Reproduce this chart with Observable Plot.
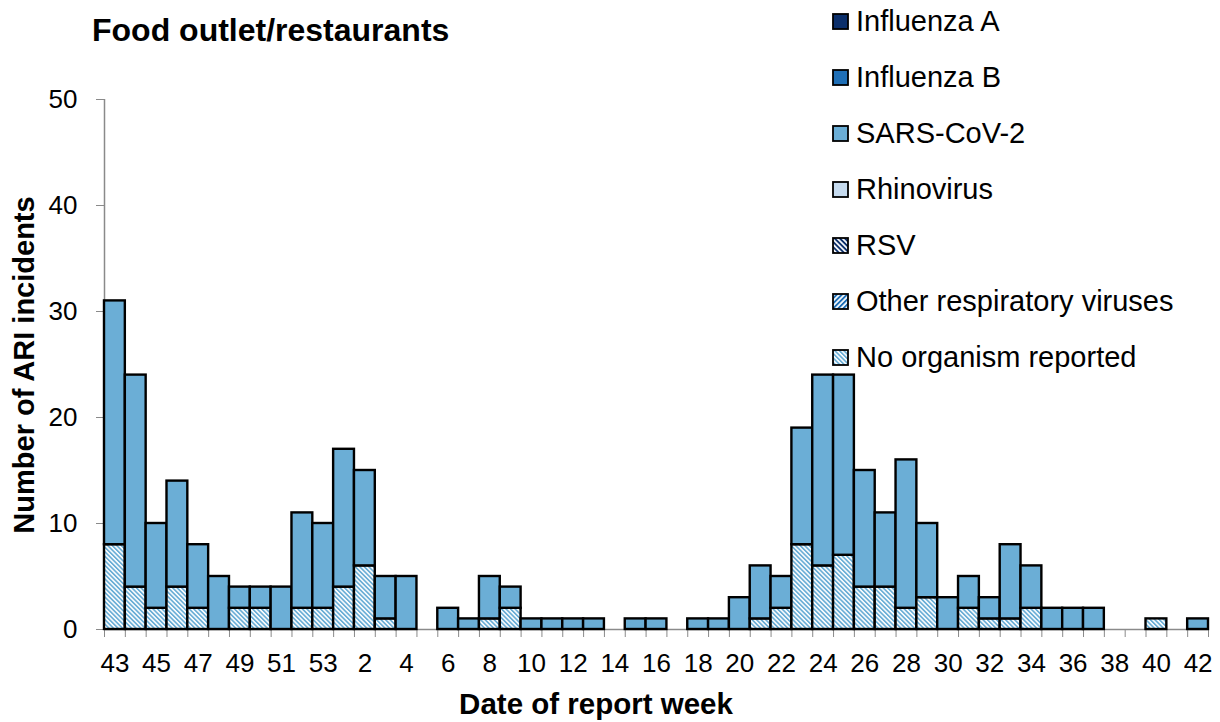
<!DOCTYPE html>
<html>
<head>
<meta charset="utf-8">
<script src="https://cdn.jsdelivr.net/npm/d3@7"></script>
<script src="https://cdn.jsdelivr.net/npm/@observablehq/plot@0.6"></script>
<style>
  html, body { margin: 0; padding: 0; background: white; }
  #wrap { position: relative; width: 1220px; height: 722px; font-family: "Liberation Sans", Arial, sans-serif; color: black; }
  #title { position: absolute; left: 92px; top: 14px; font-size: 32px; font-weight: bold; line-height: 1; white-space: nowrap; }
  #xlabel { position: absolute; left: 0; width: 1192px; top: 689px; text-align: center; font-size: 29.5px; font-weight: bold; line-height: 1; }
  #ylabel { position: absolute; left: 24px; top: 365px; transform: translate(-50%, -50%) rotate(-90deg); font-size: 29px; font-weight: bold; line-height: 1; white-space: nowrap; }
  #legend { position: absolute; left: 832px; top: 0; }
  .item { position: absolute; left: 0; height: 56px; display: flex; align-items: center; white-space: nowrap; font-size: 29px; }
  .item svg { margin-right: 7px; flex: none; }
</style>
</head>
<body>
<div id="wrap">
  <div id="chart"></div>
  <div id="title">Food outlet/restaurants</div>
  <div id="ylabel">Number of ARI incidents</div>
  <div id="xlabel">Date of report week</div>
  <div id="legend"></div>
</div>
<script>
// Report weeks (week 43 of one year through week 42 of the next)
const weeks = ["43","44","45","46","47","48","49","50","51","52","53",
  "1","2","3","4","5","6","7","8","9","10","11","12","13","14","15","16","17","18","19","20",
  "21","22","23","24","25","26","27","28","29","30","31","32","33","34","35","36","37","38","39","40","41","42"];

// Series (legend order, top of stack first)
const seriesNames = ["Influenza A","Influenza B","SARS-CoV-2","Rhinovirus","RSV","Other respiratory viruses","No organism reported"];

const influenzaA = new Array(53).fill(0);
const influenzaB = new Array(53).fill(0);
const sarsCov2 = [23,20,8,10,6,5,2,2,4,9,8,
  13,9,4,5,0,2,1,4,2,1,1,1,1,0,1,1,0,1,1,3,
  5,3,11,18,17,11,7,14,7,3,3,2,7,4,2,2,2,0,0,0,0,1];
const rhinovirus = new Array(53).fill(0);
const rsv = new Array(53).fill(0);
const otherViruses = new Array(53).fill(0);
const noOrganism = [8,4,2,4,2,0,2,2,0,2,2,
  4,6,1,0,0,0,0,1,2,0,0,0,0,0,0,0,0,0,0,0,
  1,2,8,6,7,4,4,2,3,0,2,1,1,2,0,0,0,0,0,1,0,0];

const yTicks = [0,10,20,30,40,50];

const seriesValues = {
  "Influenza A": influenzaA, "Influenza B": influenzaB, "SARS-CoV-2": sarsCov2,
  "Rhinovirus": rhinovirus, "RSV": rsv, "Other respiratory viruses": otherViruses,
  "No organism reported": noOrganism
};
const seriesFill = {
  "Influenza A": "#0b2f6b",
  "Influenza B": "#1f6fb6",
  "SARS-CoV-2": "#6baed6",
  "Rhinovirus": "#c6dbef",
  "RSV": "url(#pat-rsv)",
  "Other respiratory viruses": "url(#pat-other)",
  "No organism reported": "url(#pat-nor)"
};

// stack bottom -> top: reverse legend order
const stackOrder = seriesNames.slice().reverse();
const rows = [];
weeks.forEach((w, i) => {
  stackOrder.forEach(s => rows.push({i, week: w, series: s, value: seriesValues[s][i]}));
});

const labelTicks = d3.range(0, weeks.length, 2).map(i => i + 0.5);

const chart = Plot.plot({
  width: 1220,
  height: 722,
  marginTop: 99,
  marginBottom: 93,
  marginLeft: 104,
  marginRight: 12,
  style: { fontFamily: "'Liberation Sans', Arial, sans-serif", color: "black", background: "white" },
  x: { type: "linear", domain: [0, weeks.length] },
  y: { domain: [0, 50] },
  color: { type: "identity" },
  marks: [
    Plot.ruleY([0], { stroke: "#8a8a8a", strokeWidth: 1.5 }),
    Plot.ruleX([0], { y1: 0, y2: 50, stroke: "#8a8a8a", strokeWidth: 1.5 }),
    Plot.axisY({ ticks: yTicks, tickSize: 8, tickPadding: 19, fontSize: 26, stroke: "#8a8a8a", label: null }),
    Plot.axisX({ ticks: d3.range(0, weeks.length + 1), tickSize: 8, tickFormat: () => "", stroke: "#8a8a8a", label: null }),
    Plot.axisX({ ticks: labelTicks, tickSize: 0, tickPadding: 24, fontSize: 26, tickFormat: v => weeks[Math.floor(v)], label: null }),
    Plot.rectY(rows, {
      filter: d => d.value > 0,
      x1: "i",
      x2: d => d.i + 1,
      y: "value",
      fill: d => seriesFill[d.series],
      order: stackOrder,
      z: "series",
      stroke: "black",
      strokeWidth: 2.4
    })
  ]
});

// hatch pattern definitions
const defs = d3.select(chart).insert("defs", ":first-child");
function hatch(id, color, angle, period, stripe) {
  const p = defs.append("pattern")
    .attr("id", id)
    .attr("patternUnits", "userSpaceOnUse")
    .attr("width", period).attr("height", period)
    .attr("patternTransform", `rotate(${angle})`);
  p.append("rect").attr("width", period).attr("height", period).attr("fill", "white");
  p.append("rect").attr("width", stripe).attr("height", period).attr("fill", color);
}
hatch("pat-nor", "#6baed6", -45, 3.2, 1.7);
hatch("pat-rsv", "#0b2f6b", -45, 3.6, 1.9);
hatch("pat-other", "#1f6fb6", 45, 3.6, 1.9);

document.getElementById("chart").appendChild(chart);

// legend
const legend = d3.select("#legend");
seriesNames.forEach((s, k) => {
  const item = legend.append("div").attr("class", "item").style("top", (21 + 56 * k - 28) + "px");
  const sw = item.append("svg").attr("width", 17).attr("height", 17);
  sw.append("rect").attr("x", 1).attr("y", 1).attr("width", 15).attr("height", 15)
    .attr("fill", seriesFill[s]).attr("stroke", "black").attr("stroke-width", 1.8);
  item.append("span").text(s);
});
</script>
</body>
</html>
